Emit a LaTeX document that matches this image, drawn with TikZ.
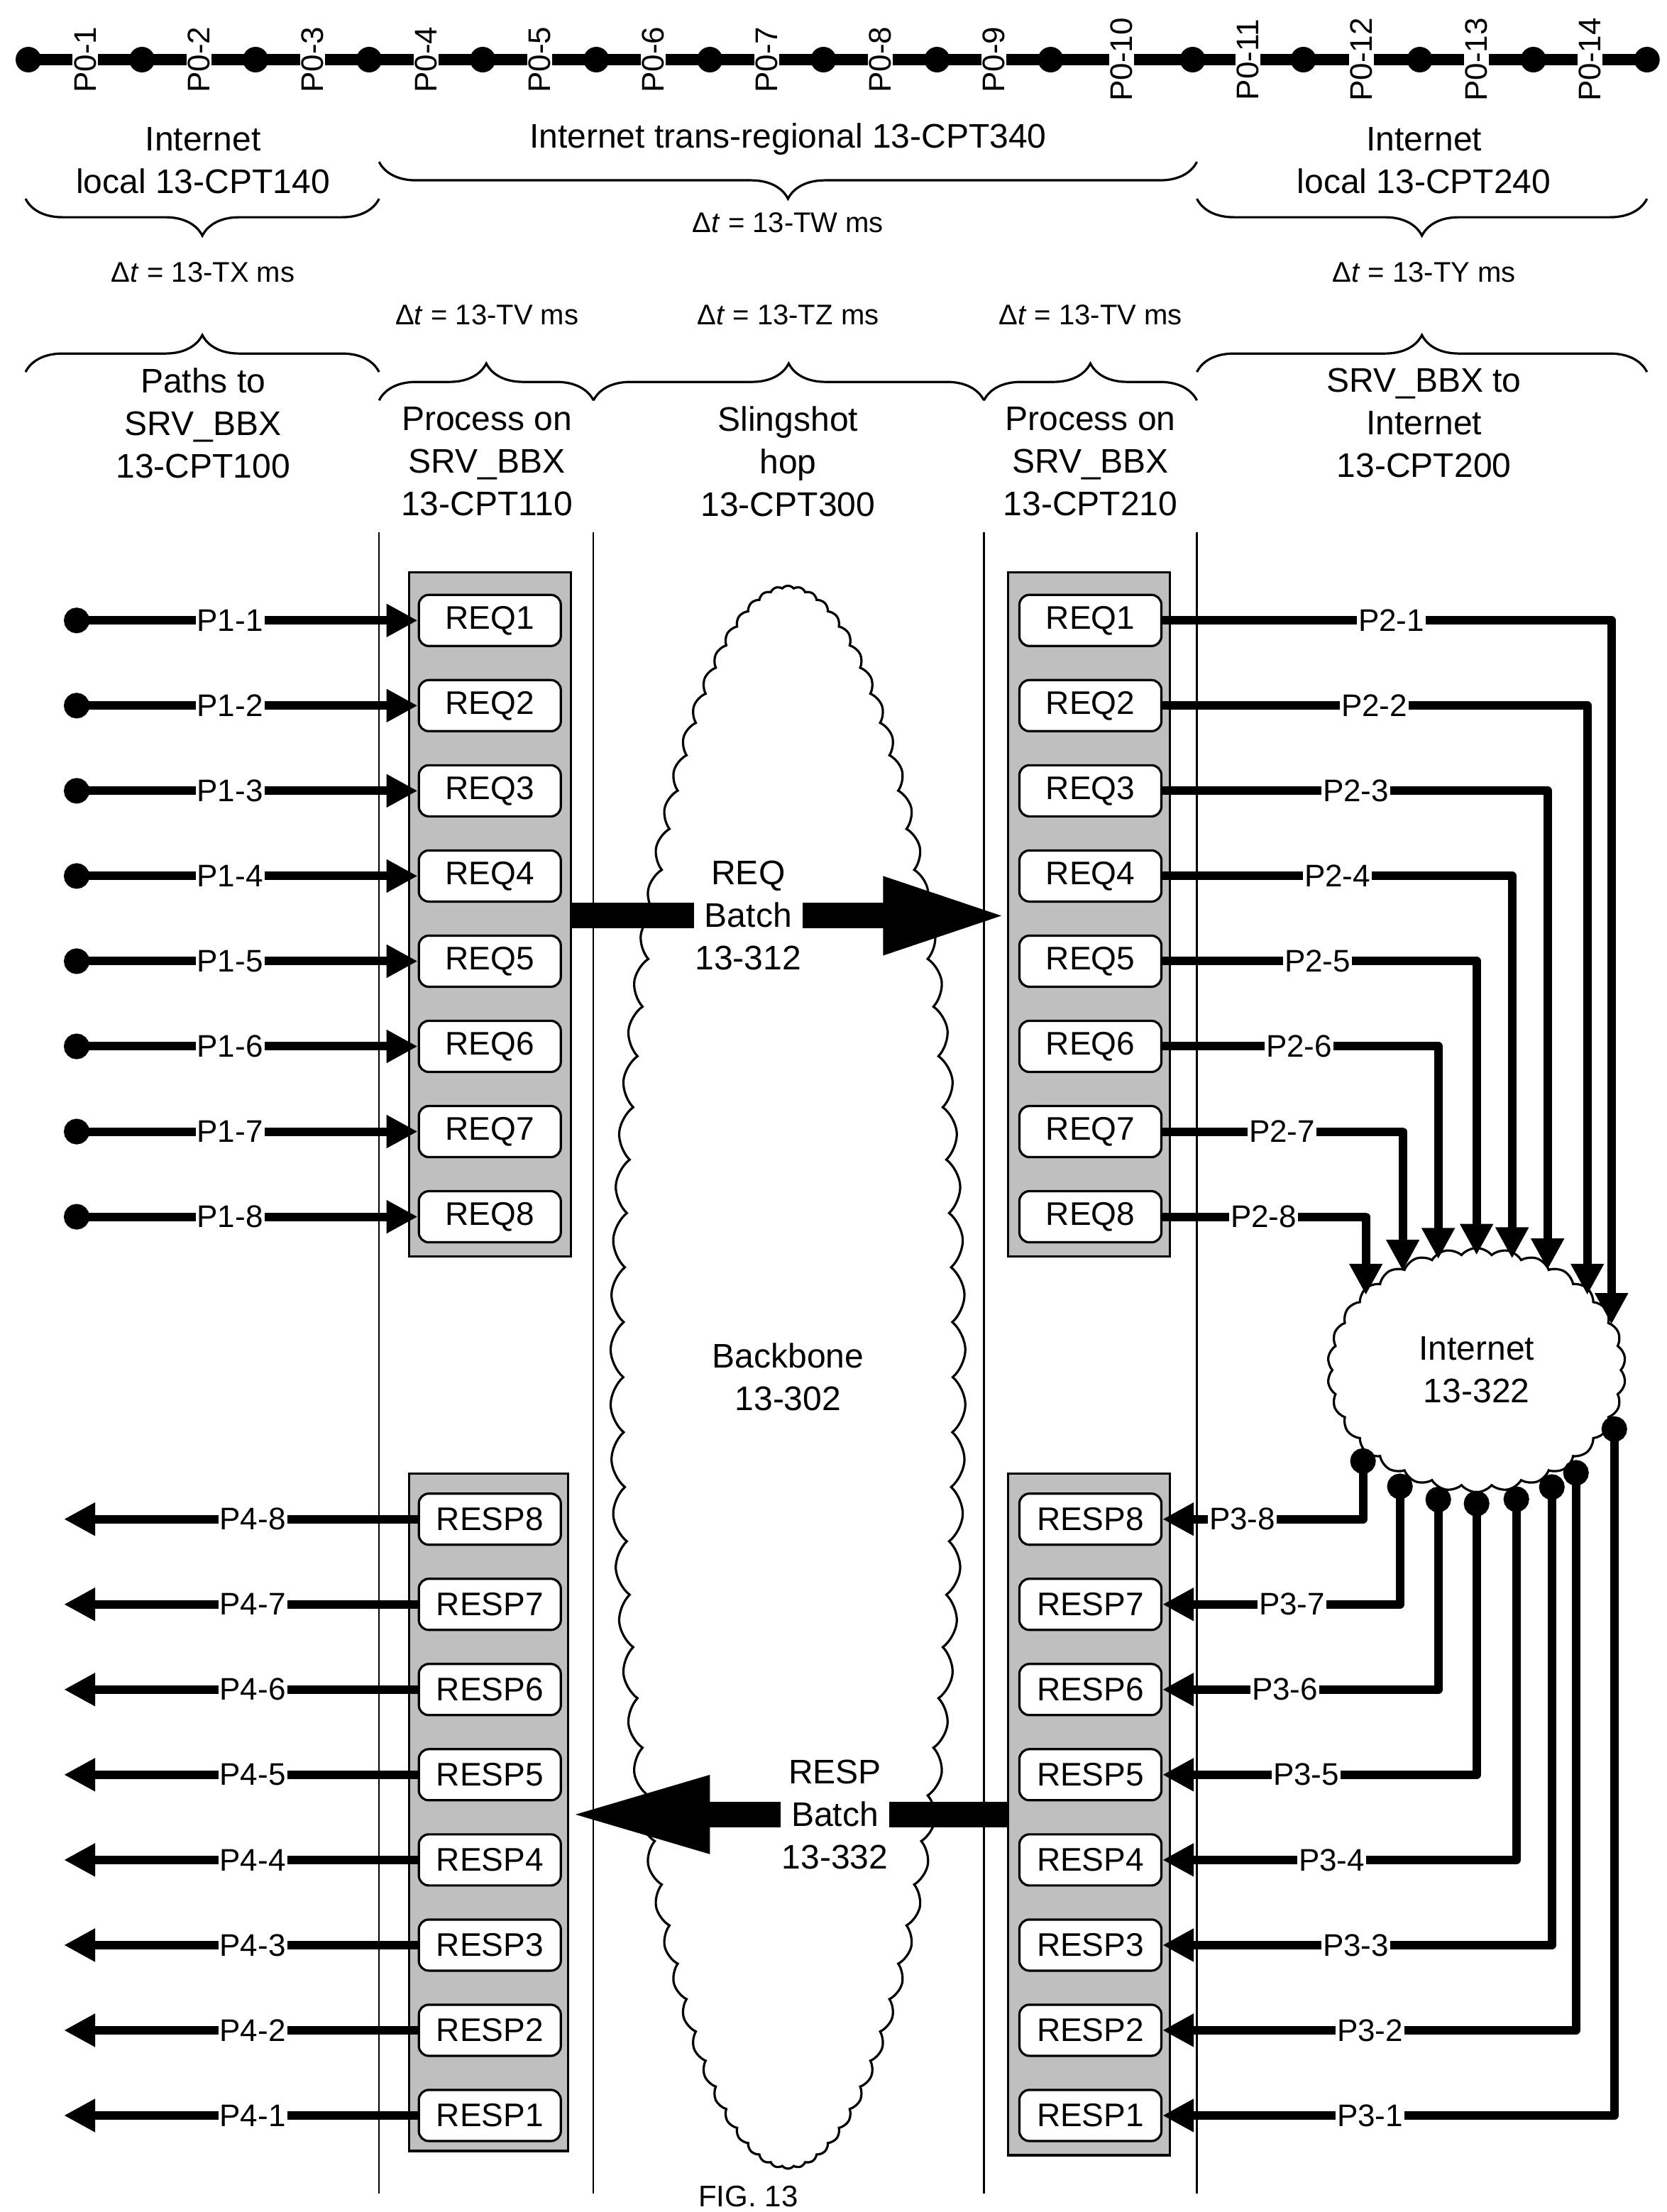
\documentclass[tikz,border=0pt]{standalone}
\usepackage{fontspec}
\setmainfont{Liberation Sans}
\usetikzlibrary{arrows.meta,shapes.symbols,decorations.pathreplacing}

\tikzset{
  wire/.style={line width=6pt},
  tip/.style={-{Triangle[length=22pt,width=22pt]}},
  req/.style={draw,line width=1.6pt,rounded corners=7pt,fill=white,minimum width=100pt,minimum height=36pt,inner sep=0pt,font=\fontsize{23}{26}\selectfont},
  tray/.style={draw,line width=1.6pt,fill=black!25},
  lbl/.style={fill=white,inner sep=1pt,font=\fontsize{22}{24}\selectfont},
  hdr/.style={align=center,font=\fontsize{24}{30}\selectfont},
  dt/.style={font=\fontsize{20}{22}\selectfont},
  brc/.style={decorate,decoration={brace,amplitude=26pt},line width=1.6pt}
}
\newcommand{\dlt}{Δ\textit{t}}

\begin{document}
\begin{tikzpicture}[x=1pt,y=-1pt]
\useasboundingbox (0,0) rectangle (1174,1558);

% top chain of points
\draw[line width=8pt] (20,42) -- (1160,42);
\foreach \x in {20,100,180,260,340,420,500,580,660,740,840,918,1000,1080,1160}
  \fill (\x,42) circle[radius=9pt];
\foreach \x/\n in {60/1,140/2,220/3,300/4,380/5,460/6,540/7,620/8,700/9,790/10,879/11,959/12,1040/13,1120/14}
  \node[rotate=90,lbl] at (\x,42) {P0-\n};

% upper braces
\node[hdr] (loc1) at (143,113) {Internet\\local 13-CPT140};
\node[hdr] (trans) at (555,98) {Internet trans-regional 13-CPT340};
\node[hdr] (loc2) at (1003,113) {Internet\\local 13-CPT240};
\draw[brc] (267,140) -- (18,140);
\draw[brc] (843,114) -- (267,114);
\draw[brc] (1160,140) -- (843,140);
\node[dt] (tx) at (143,192) {\dlt{} = 13-TX ms};
\node[dt] (tw) at (555,157) {\dlt{} = 13-TW ms};
\node[dt] (ty) at (1003,192) {\dlt{} = 13-TY ms};

% lower braces
\node[dt] (tv1) at (343,222) {\dlt{} = 13-TV ms};
\node[dt] (tz) at (555,222) {\dlt{} = 13-TZ ms};
\node[dt] (tv2) at (768,222) {\dlt{} = 13-TV ms};
\draw[brc] (18,262) -- (267,262);
\draw[brc] (267,282) -- (418,282);
\draw[brc] (418,282) -- (693,282);
\draw[brc] (693,282) -- (843,282);
\draw[brc] (843,262) -- (1160,262);
\node[hdr] (c100) at (143,298) {Paths to\\SRV\_BBX\\13-CPT100};
\node[hdr] (c110) at (343,325) {Process on\\SRV\_BBX\\13-CPT110};
\node[hdr] (c300) at (555,325) {Slingshot\\hop\\13-CPT300};
\node[hdr] (c210) at (768,325) {Process on\\SRV\_BBX\\13-CPT210};
\node[hdr] (c200) at (1003,298) {SRV\_BBX to\\Internet\\13-CPT200};

% column lines
\foreach \x in {267,418,693,843}
  \draw[line width=1.2pt] (\x,375) -- (\x,1545);

% clouds
\node[cloud,draw,line width=1.6pt,cloud puffs=90,cloud puff arc=100,cloud ignores aspect,minimum width=250pt,minimum height=1115pt,hdr] (bb) at (555,970) {Backbone\\13-302};
\node[cloud,draw,line width=1.6pt,cloud puffs=30,cloud puff arc=100,cloud ignores aspect,minimum width=210pt,minimum height=172pt,hdr] (net) at (1040,965) {Internet\\13-322};

% trays
\draw[tray] (288,403) rectangle (402,885);
\draw[tray] (710,403) rectangle (824,885);
\draw[tray] (288,1038) rectangle (400,1515);
\draw[tray] (710,1038) rectangle (824,1518);

% batch arrows
\draw[line width=18pt,-{Triangle[length=88pt,width=50pt]}] (402,645) -- (710,645);
\node[hdr,fill=white,inner sep=1pt] (rqb) at (527,645) {REQ\\Batch\\13-312};
\draw[line width=18pt,-{Triangle[length=100pt,width=50pt]}] (710,1278) -- (400,1278);
\node[hdr,fill=white,inner sep=1pt] (rsb) at (588,1278) {RESP\\Batch\\13-332};

% requests
\foreach \k in {1,...,8} {
  \pgfmathsetmacro{\yy}{437+60*(\k-1)}
  \node[req] (qa\k) at (345,\yy) {REQ\k};
  \node[req] (qb\k) at (768,\yy) {REQ\k};
  \coordinate (p1\k) at (45,\yy);
  \draw[wire,{Circle[length=18pt]}-{Triangle[length=22pt,width=22pt]}] (p1\k) -- (qa\k.west);
  \node[lbl] at (162,\yy) {P1-\k};
}

% responses
\foreach \k in {1,...,8} {
  \pgfmathsetmacro{\yy}{1070+60*(8-\k)}
  \node[req] (ra\k) at (345,\yy) {RESP\k};
  \node[req] (rb\k) at (768,\yy) {RESP\k};
  \coordinate (p4\k) at (45,\yy);
  \draw[wire,tip] (ra\k.west) -- (p4\k);
  \node[lbl] at (178,\yy) {P4-\k};
}

% to the internet
\foreach \k/\vx/\lx in {1/1135/980,2/1118/968,3/1090/955,4/1065/942,5/1040/928,6/1013/915,7/988/903,8/962/890} {
  \pgfmathsetmacro{\yy}{437+60*(\k-1)}
  \pgfmathsetmacro{\ey}{965-85*sqrt(1-((\vx-1040)/105)^2)+4}
  \coordinate (n2\k) at (\vx,\ey);
  \draw[wire,tip,line join=round] (qb\k.east) -- (\vx,\yy) -- (n2\k);
  \node[lbl] at (\lx,\yy) {P2-\k};
}

% back from the internet
\foreach \k/\vx/\lx in {1/1137/965,2/1110/965,3/1093/955,4/1068/938,5/1040/920,6/1013/905,7/986/910,8/960/875} {
  \pgfmathsetmacro{\yy}{1070+60*(8-\k)}
  \pgfmathsetmacro{\sy}{965+85*sqrt(1-((\vx-1040)/105)^2)}
  \coordinate (n3\k) at (\vx,\sy);
  \draw[wire,{Circle[length=18pt]}-{Triangle[length=22pt,width=22pt]},line join=round] (n3\k) -- (\vx,\yy) -- (rb\k.east);
  \node[lbl] at (\lx,\yy) {P3-\k};
}

\node[font=\fontsize{21}{22}\selectfont] (fig) at (527,1547) {FIG. 13};
\end{tikzpicture}
\end{document}
